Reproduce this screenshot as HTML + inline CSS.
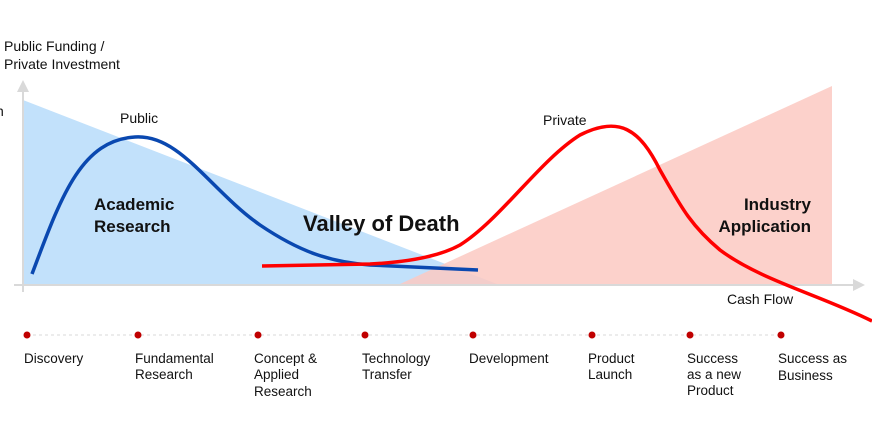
<!DOCTYPE html>
<html><head><style>
body{margin:0;background:#fff;width:872px;height:427px;overflow:hidden}
svg text{font-family:"Liberation Sans",sans-serif}
</style></head><body>
<svg width="872" height="427" viewBox="0 0 872 427">
<polygon points="23,100 497,284 23,284" fill="#c2e1fb"/>
<polygon points="400,284 832,86 832,284" fill="#fbc9c2" opacity="0.85"/>
<line x1="23" y1="86" x2="23" y2="292" stroke="#d9d9d9" stroke-width="2"/>
<polygon points="17,92 23,80 29,92" fill="#d9d9d9"/>
<line x1="14" y1="285" x2="855" y2="285" stroke="#d9d9d9" stroke-width="2"/>
<polygon points="853,279 865,285 853,291" fill="#d9d9d9"/>
<path d="M32,274 C60,200 80,140 135,137 C180,134 210,190 260,225 C300,252 330,262 370,265 L478,270" fill="none" stroke="#0a48b0" stroke-width="3.5"/>
<path d="M262,266 L370,264 C410,262 440,256 460,245 C500,220 540,160 580,135 C620,115 640,130 660,170 C680,205 690,225 720,250 C760,280 820,295 872,321" fill="none" stroke="#ff0000" stroke-width="3.5"/>
<text x="4" y="51" font-size="14" fill="#111">Public Funding /</text>
<text x="4" y="69" font-size="14" fill="#111">Private Investment</text>
<text x="-4" y="116" font-size="14" fill="#111">n</text>
<text x="120" y="123" font-size="14" fill="#111">Public</text>
<text x="543" y="125" font-size="14" fill="#111">Private</text>
<text x="94" y="210" font-size="17" font-weight="bold" fill="#111">Academic</text>
<text x="94" y="232" font-size="17" font-weight="bold" fill="#111">Research</text>
<text x="303" y="231" font-size="22" font-weight="bold" fill="#111">Valley of Death</text>
<text x="811" y="210" font-size="17" font-weight="bold" fill="#111" text-anchor="end">Industry</text>
<text x="811" y="232" font-size="17" font-weight="bold" fill="#111" text-anchor="end">Application</text>
<text x="727" y="304" font-size="14" fill="#111">Cash Flow</text>
<line x1="27" y1="335" x2="781" y2="335" stroke="#d8d8d8" stroke-dasharray="3,3"/>
<g fill="#c00000">
<circle cx="27" cy="335" r="3.5"/><circle cx="138" cy="335" r="3.5"/><circle cx="258" cy="335" r="3.5"/><circle cx="365" cy="335" r="3.5"/><circle cx="473" cy="335" r="3.5"/><circle cx="592" cy="335" r="3.5"/><circle cx="690" cy="335" r="3.5"/><circle cx="781" cy="335" r="3.5"/>
</g>
<g font-size="13.5" fill="#111">
<text x="24" y="363">Discovery</text>
<text x="135" y="363">Fundamental</text><text x="135" y="379">Research</text>
<text x="254" y="363">Concept &amp;</text><text x="254" y="379">Applied</text><text x="254" y="396">Research</text>
<text x="362" y="363">Technology</text><text x="362" y="379">Transfer</text>
<text x="469" y="363">Development</text>
<text x="588" y="363">Product</text><text x="588" y="379">Launch</text>
<text x="687" y="363">Success</text><text x="687" y="379">as a new</text><text x="687" y="395">Product</text>
<text x="778" y="363">Success as</text><text x="778" y="380">Business</text>
</g>
</svg>
</body></html>
